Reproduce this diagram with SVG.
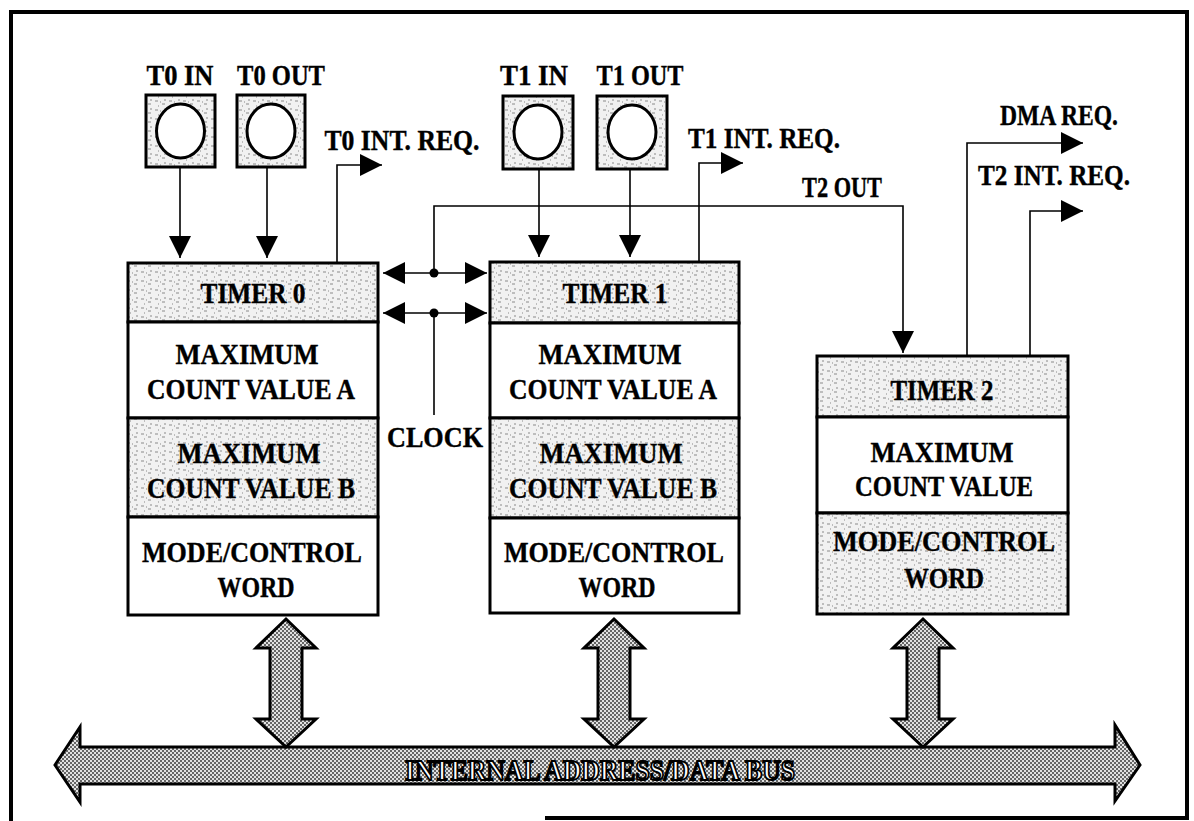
<svg xmlns="http://www.w3.org/2000/svg" width="1194" height="821" viewBox="0 0 1194 821">
<defs>
<style>
.t{font-family:"Liberation Serif","Times New Roman",serif;font-weight:bold;font-size:29px;fill:#000;stroke:#000;stroke-width:0.4;text-anchor:middle}
.box{stroke:#000;stroke-width:3}
.ln{fill:none;stroke:#000;stroke-width:1.6}
.fr{fill:none;stroke:#000;stroke-width:4}
</style>
<pattern id="speck" width="14" height="9" patternUnits="userSpaceOnUse">
<rect width="14" height="9" fill="#f1f1f1"/>
<path d="M1 2h3M8 5h3M4 7h1M10 1h2M6 3h1" stroke="#8a8a8a" stroke-width="1"/>
</pattern>
<pattern id="half" width="4" height="4" patternUnits="userSpaceOnUse">
<rect width="4" height="4" fill="#e2e2e2"/>
<rect width="2" height="2" fill="#666"/>
<rect x="2" y="2" width="2" height="2" fill="#666"/>
</pattern>
<marker id="ah" viewBox="0 0 10 10" refX="10" refY="5" markerWidth="22" markerHeight="22" markerUnits="userSpaceOnUse" orient="auto-start-reverse">
<path d="M0,0 L10,5 L0,10 Z" fill="#000"/>
</marker>
</defs>
<rect width="1194" height="821" fill="#fff"/>
<g id="frame">
<path class="fr" d="M11,821 L11,12 L1187,12 L1187,818 L545,818"/>
</g>

<g id="t0in">
<rect class="box" x="146" y="95" width="69" height="72" fill="url(#speck)"/>
<ellipse cx="180.5" cy="131" rx="24" ry="27" fill="#fff" stroke="#000" stroke-width="3"/>
<text class="t" x="180" y="85" textLength="67" lengthAdjust="spacingAndGlyphs">T0 IN</text>
</g>
<g id="t0out">
<rect class="box" x="237" y="95" width="68" height="72" fill="url(#speck)"/>
<ellipse cx="271" cy="131" rx="24" ry="27" fill="#fff" stroke="#000" stroke-width="3"/>
<text class="t" x="281" y="85" textLength="88" lengthAdjust="spacingAndGlyphs">T0 OUT</text>
</g>
<g id="t1in">
<rect class="box" x="503" y="96" width="70" height="73" fill="url(#speck)"/>
<ellipse cx="538" cy="132" rx="24" ry="27" fill="#fff" stroke="#000" stroke-width="3"/>
<text class="t" x="534" y="85" textLength="68" lengthAdjust="spacingAndGlyphs">T1 IN</text>
</g>
<g id="t1out">
<rect class="box" x="597" y="96" width="70" height="73" fill="url(#speck)"/>
<ellipse cx="632" cy="132" rx="24" ry="27" fill="#fff" stroke="#000" stroke-width="3"/>
<text class="t" x="640" y="85" textLength="87" lengthAdjust="spacingAndGlyphs">T1 OUT</text>
</g>

<g id="timer0">
<rect class="box" x="128" y="263" width="250" height="59" fill="url(#speck)"/>
<rect class="box" x="128" y="322" width="250" height="96" fill="#fff"/>
<rect class="box" x="128" y="418" width="250" height="99" fill="url(#speck)"/>
<rect class="box" x="128" y="517" width="250" height="98" fill="#fff"/>
<text class="t" x="253" y="303" textLength="105" lengthAdjust="spacingAndGlyphs">TIMER 0</text>
<text class="t" x="247" y="364" textLength="143" lengthAdjust="spacingAndGlyphs">MAXIMUM</text>
<text class="t" x="251" y="399" textLength="208" lengthAdjust="spacingAndGlyphs">COUNT VALUE A</text>
<text class="t" x="249" y="463" textLength="143" lengthAdjust="spacingAndGlyphs">MAXIMUM</text>
<text class="t" x="251" y="498" textLength="208" lengthAdjust="spacingAndGlyphs">COUNT VALUE B</text>
<text class="t" x="252" y="562" textLength="220" lengthAdjust="spacingAndGlyphs">MODE/CONTROL</text>
<text class="t" x="256" y="597" textLength="77" lengthAdjust="spacingAndGlyphs">WORD</text>
</g>

<g id="timer1">
<rect class="box" x="490" y="262" width="249" height="61" fill="url(#speck)"/>
<rect class="box" x="490" y="323" width="249" height="95" fill="#fff"/>
<rect class="box" x="490" y="418" width="249" height="100" fill="url(#speck)"/>
<rect class="box" x="490" y="518" width="249" height="95" fill="#fff"/>
<text class="t" x="615" y="303" textLength="105" lengthAdjust="spacingAndGlyphs">TIMER 1</text>
<text class="t" x="610" y="364" textLength="143" lengthAdjust="spacingAndGlyphs">MAXIMUM</text>
<text class="t" x="613" y="399" textLength="208" lengthAdjust="spacingAndGlyphs">COUNT VALUE A</text>
<text class="t" x="611" y="463" textLength="143" lengthAdjust="spacingAndGlyphs">MAXIMUM</text>
<text class="t" x="613" y="498" textLength="208" lengthAdjust="spacingAndGlyphs">COUNT VALUE B</text>
<text class="t" x="614" y="562" textLength="220" lengthAdjust="spacingAndGlyphs">MODE/CONTROL</text>
<text class="t" x="617" y="597" textLength="77" lengthAdjust="spacingAndGlyphs">WORD</text>
</g>

<g id="timer2">
<rect class="box" x="817" y="356" width="251" height="61" fill="url(#speck)"/>
<rect class="box" x="817" y="417" width="251" height="96" fill="#fff"/>
<rect class="box" x="817" y="513" width="251" height="101" fill="url(#speck)"/>
<text class="t" x="942" y="400" textLength="103" lengthAdjust="spacingAndGlyphs">TIMER 2</text>
<text class="t" x="942" y="462" textLength="143" lengthAdjust="spacingAndGlyphs">MAXIMUM</text>
<text class="t" x="944" y="496" textLength="178" lengthAdjust="spacingAndGlyphs">COUNT VALUE</text>
<text class="t" x="944" y="551" textLength="222" lengthAdjust="spacingAndGlyphs">MODE/CONTROL</text>
<text class="t" x="944" y="588" textLength="80" lengthAdjust="spacingAndGlyphs">WORD</text>
</g>

<g id="bus">
<path d="M55,765 L80,727 L80,747 L1115,747 L1115,725 L1140,765 L1115,801 L1115,784 L80,784 L80,802 Z" fill="url(#half)" stroke="#000" stroke-width="3" stroke-linejoin="miter"/>
<text x="600" y="780" font-family="Liberation Serif, serif" font-weight="bold" font-size="30" text-anchor="middle" fill="#fff" stroke="#000" stroke-width="2" textLength="390" lengthAdjust="spacingAndGlyphs">INTERNAL ADDRESS/DATA BUS</text>
</g>
<g id="bus-links">
<path d="M286,619 L316,648 L302,648 L302,719 L316,719 L286,747 L256,719 L270,719 L270,648 L256,648 Z" fill="url(#half)" stroke="#000" stroke-width="3"/>
<path d="M614,619 L644,648 L630,648 L630,719 L644,719 L614,747 L584,719 L598,719 L598,648 L584,648 Z" fill="url(#half)" stroke="#000" stroke-width="3"/>
<path d="M923,619 L953,648 L939,648 L939,719 L953,719 L923,747 L893,719 L907,719 L907,648 L893,648 Z" fill="url(#half)" stroke="#000" stroke-width="3"/>
</g>

<g id="connectors">
<path class="ln" d="M180,168 L180,258" marker-end="url(#ah)"/>
<path class="ln" d="M267,168 L267,258" marker-end="url(#ah)"/>
<path class="ln" d="M539,170 L539,257" marker-end="url(#ah)"/>
<path class="ln" d="M630,170 L630,257" marker-end="url(#ah)"/>
<path class="ln" d="M337,262 L337,165 L382,165" marker-end="url(#ah)"/>
<path class="ln" d="M699,261 L699,163 L743,163" marker-end="url(#ah)"/>
<path class="ln" d="M434,273 L434,206 L903,206 L903,353" marker-end="url(#ah)"/>
<path class="ln" d="M967,355 L967,143 L1083,143" marker-end="url(#ah)"/>
<path class="ln" d="M1030,355 L1030,211 L1083,211" marker-end="url(#ah)"/>
<path class="ln" d="M383,273 L487,273" marker-start="url(#ah)" marker-end="url(#ah)"/>
<path class="ln" d="M383,313 L487,313" marker-start="url(#ah)" marker-end="url(#ah)"/>
<path class="ln" d="M434,313 L434,415"/>
<circle cx="434" cy="273" r="4.5" fill="#000"/>
<circle cx="434" cy="313" r="4.5" fill="#000"/>
</g>

<g id="labels">
<text class="t" x="402" y="150" textLength="155" lengthAdjust="spacingAndGlyphs">T0 INT. REQ.</text>
<text class="t" x="764" y="148" textLength="152" lengthAdjust="spacingAndGlyphs">T1 INT. REQ.</text>
<text class="t" x="842" y="197" textLength="80" lengthAdjust="spacingAndGlyphs">T2 OUT</text>
<text class="t" x="1059" y="125" textLength="118" lengthAdjust="spacingAndGlyphs">DMA REQ.</text>
<text class="t" x="1054" y="185" textLength="152" lengthAdjust="spacingAndGlyphs">T2 INT. REQ.</text>
<text class="t" x="435" y="447" textLength="96" lengthAdjust="spacingAndGlyphs">CLOCK</text>
</g>
</svg>
